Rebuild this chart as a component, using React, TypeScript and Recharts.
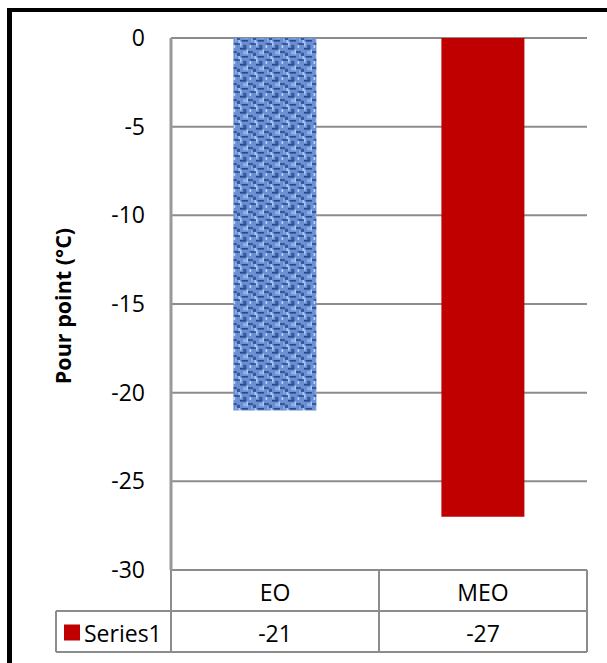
import React from 'react';
import { BarChart, Bar, XAxis, YAxis, CartesianGrid, Cell } from 'recharts';

const categories = ['EO', 'MEO'];
const values = [-21, -27];
const yTicks = [0, -5, -10, -15, -20, -25, -30];
const seriesName = 'Series1';
const yLabel = 'Pour point (°C)';

const data = categories.map((c, i) => ({ name: c, value: values[i] }));

const FONT = '"Open Sans", sans-serif';
const GRID = '#8c8c8c';
const RED = '#C00000';
const FS = 23;

const TableTick = (props: any) => {
  const { x, y, payload, index } = props;
  const half = payload && payload.offset ? payload.offset : 104;
  const rowH = 41;
  const left = x - half;
  const right = x + half;
  const val = values[index];
  return (
    <g>
      <line x1={left} y1={y} x2={left} y2={y + rowH * 2} stroke={GRID} strokeWidth={2} />
      <line x1={right} y1={y} x2={right} y2={y + rowH * 2} stroke={GRID} strokeWidth={2} />
      <line x1={left} y1={y + rowH} x2={right} y2={y + rowH} stroke={GRID} strokeWidth={2} />
      <line x1={left} y1={y + rowH * 2} x2={right} y2={y + rowH * 2} stroke={GRID} strokeWidth={2} />
      <text x={x} y={y + rowH / 2 + 1} textAnchor="middle" dominantBaseline="central" fontFamily={FONT} fontSize={FS} fill="#000">
        {payload.value}
      </text>
      <text x={x} y={y + rowH * 1.5 + 1} textAnchor="middle" dominantBaseline="central" fontFamily={FONT} fontSize={FS} fill="#000">
        {val}
      </text>
      {index === 0 && (
        <g>
          <line x1={left - 115} y1={y + rowH} x2={left} y2={y + rowH} stroke={GRID} strokeWidth={2} />
          <line x1={left - 115} y1={y + rowH * 2} x2={left} y2={y + rowH * 2} stroke={GRID} strokeWidth={2} />
          <line x1={left - 115} y1={y + rowH} x2={left - 115} y2={y + rowH * 2} stroke={GRID} strokeWidth={2} />
          <rect x={left - 107} y={y + rowH * 1.5 - 7} width={16} height={16} fill={RED} />
          <text x={left - 87} y={y + rowH * 1.5 + 1} textAnchor="start" dominantBaseline="central" fontFamily={FONT} fontSize={FS} fill="#000">
            {seriesName}
          </text>
        </g>
      )}
    </g>
  );
};

const YLabel = (props: any) => {
  const vb = props.viewBox || { x: 0, y: 38, width: 171, height: 532 };
  const cx = vb.x + 62;
  const cy = vb.y + vb.height / 2 + 2;
  return (
    <text
      x={cx}
      y={cy}
      transform={`rotate(-90 ${cx} ${cy})`}
      textAnchor="middle"
      dominantBaseline="central"
      fontFamily={FONT}
      fontWeight="bold"
      fontSize={21.5}
      fill="#000"
    >
      {yLabel}
    </text>
  );
};

export default function App() {
  return (
    <div style={{ position: 'absolute', left: 0, top: 0, width: 607, height: 663, background: '#fff', overflow: 'hidden' }}>
      <div
        style={{
          position: 'absolute',
          left: 7,
          top: 8,
          width: 800,
          height: 800,
          borderLeft: '5px solid #000',
          borderTop: '4px solid #000',
          boxSizing: 'border-box',
        }}
      />
      <div style={{ position: 'absolute', left: 0, top: 0 }}>
        <BarChart
          width={607}
          height={663}
          data={data}
          margin={{ top: 38, right: 20, bottom: 0, left: 0 }}
          barCategoryGap="30%"
        >
          <defs>
            <pattern id="weave" width="10" height="10" patternUnits="userSpaceOnUse" patternTransform="scale(1.6)">
              <rect width="10" height="10" fill="#6a8fd3" />
              <rect x="0" y="0" width="4" height="1" fill="#284a8e" />
              <rect x="5" y="2" width="3" height="1" fill="#284a8e" />
              <rect x="1" y="5" width="4" height="1" fill="#284a8e" />
              <rect x="6" y="7" width="4" height="1" fill="#284a8e" />
              <rect x="2" y="8" width="2" height="2" fill="#35599f" />
              <rect x="8" y="3" width="2" height="2" fill="#35599f" />
              <rect x="4" y="1" width="1" height="3" fill="#abc6f2" />
              <rect x="9" y="5" width="1" height="2" fill="#abc6f2" />
              <rect x="0" y="6" width="1" height="3" fill="#abc6f2" />
              <rect x="6" y="8" width="1" height="2" fill="#bcd3f6" />
              <rect x="2" y="2" width="2" height="2" fill="#8eafe8" />
              <rect x="7" y="4" width="1" height="2" fill="#8eafe8" />
            </pattern>
          </defs>
          <CartesianGrid horizontal vertical={false} stroke={GRID} strokeWidth={2} />
          <XAxis
            dataKey="name"
            height={93}
            axisLine={{ stroke: GRID, strokeWidth: 2 }}
            tickLine={false}
            tickSize={0}
            tickMargin={0}
            tick={<TableTick />}
            interval={0}
          />
          <YAxis
            width={171}
            domain={[-30, 0]}
            ticks={yTicks}
            interval={0}
            axisLine={{ stroke: '#999999', strokeWidth: 3 }}
            tickLine={false}
            tickMargin={20}
            tick={{ fontFamily: FONT, fontSize: FS, fill: '#000' }}
            label={<YLabel />}
          />
          <Bar dataKey="value" isAnimationActive={false}>
            {data.map((d, i) => (
              <Cell key={d.name} fill={i === 0 ? 'url(#weave)' : RED} />
            ))}
          </Bar>
        </BarChart>
      </div>
    </div>
  );
}
